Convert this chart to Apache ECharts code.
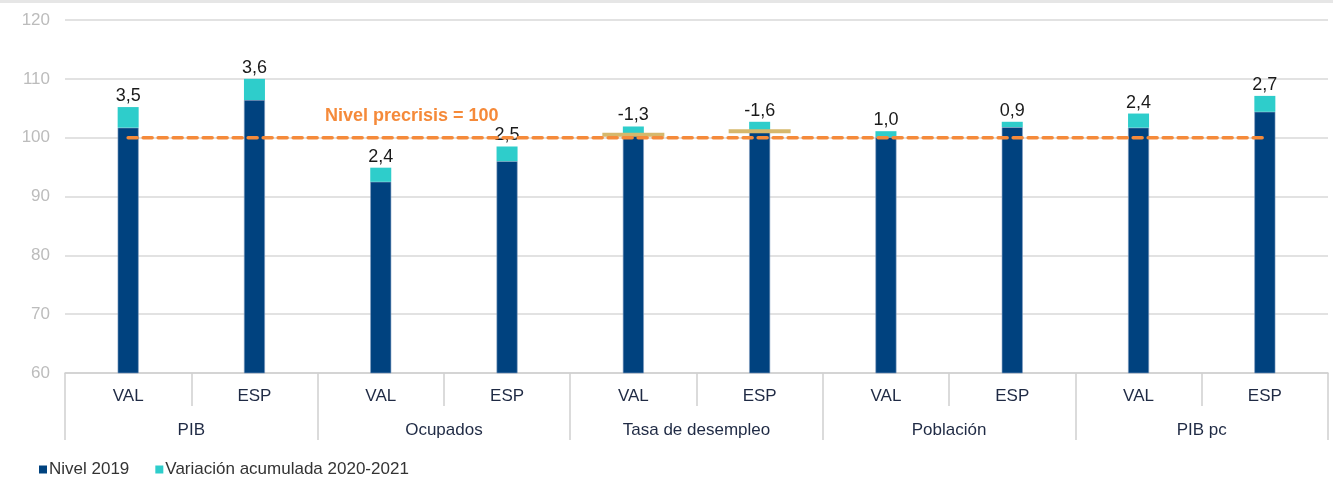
<!DOCTYPE html>
<html>
<head>
<meta charset="utf-8">
<script src="https://cdn.jsdelivr.net/npm/echarts@6/dist/echarts.min.js"></script>
<style>
html,body{margin:0;padding:0;background:#fff;}
#main{width:1333px;height:482px;}
</style>
</head>
<body>
<div id="main"></div>
<script>
// categorias
var subCats = ['VAL','ESP','VAL','ESP','VAL','ESP','VAL','ESP','VAL','ESP'];
var groupCats = ['PIB','Ocupados','Tasa de desempleo','Población','PIB pc'];
// nivel 2019 (precrisis = 100)
var nivel2019 = [101.7, 106.4, 92.5, 96.0, 100.6, 101.1, 100.1, 101.8, 101.7, 104.4];
// variacion acumulada 2020-2021 (etiquetas)
var variacion = [3.5, 3.6, 2.4, 2.5, -1.3, -1.6, 1.0, 0.9, 2.4, 2.7];
// marca del nivel en tasa de desempleo
var marcaDesempleo = ['-','-','-','-',100.5,101.1,'-','-','-','-'];
var precrisis = [100,100,100,100,100,100,100,100,100,100];

var fuente = 'Liberation Sans, Arial, sans-serif';
var myChart = echarts.init(document.getElementById('main'));

var option = {
	animation: false,
	textStyle: { fontFamily: fuente },
	grid: { left: 65, right: 5, top: 20, bottom: 109 },
	legend: {
		left: 34,
		top: 456,
		itemWidth: 8,
		itemHeight: 8,
		itemGap: 26,
		icon: 'rect',
		itemStyle: { borderWidth: 0 },
		textStyle: { color: '#333', fontSize: 17, fontFamily: fuente, padding: [0, 0, 0, -3] },
		data: ['Nivel 2019', 'Variación acumulada 2020-2021']
	},
	graphic: [
		{ type: 'rect', shape: { x: 0, y: 0, width: 1333, height: 3 }, style: { fill: '#e6e6e6' } },
		{
			type: 'text', left: 325, top: 107,
			style: { text: 'Nivel precrisis = 100', fill: '#F58A3A', font: 'bold 18px ' + fuente }
		}
	],
	xAxis: [
		{
			type: 'category',
			data: subCats,
			axisLine: { lineStyle: { color: '#d0d0d0', width: 1.5 } },
			axisTick: { show: true, interval: 0, length: 33, lineStyle: { color: '#d0d0d0', width: 1.5 } },
			axisLabel: { interval: 0, margin: 15, color: '#1f2a44', fontSize: 17 }
		},
		{
			type: 'category',
			data: groupCats,
			position: 'bottom',
			offset: 33,
			axisLine: { show: false },
			axisTick: { show: true, interval: 0, length: 34, lineStyle: { color: '#d0d0d0', width: 1.5 } },
			axisLabel: { interval: 0, margin: 16, color: '#1f2a44', fontSize: 17 }
		}
	],
	yAxis: {
		type: 'value',
		min: 60,
		max: 120,
		interval: 10,
		axisLine: { show: false },
		axisTick: { show: false },
		axisLabel: { color: '#bcbcbc', fontSize: 17, margin: 15 },
		splitLine: { lineStyle: { color: '#d9d9d9', width: 1.5 } }
	},
	series: [
		{
			name: 'Nivel 2019',
			type: 'bar',
			stack: 'total',
			barWidth: 21,
			itemStyle: { color: '#00427F', borderColor: '#7f9cc0', borderWidth: 0.6 },
			data: nivel2019
		},
		{
			name: 'Variación acumulada 2020-2021',
			type: 'bar',
			stack: 'total',
			barWidth: 21,
			itemStyle: { color: '#2ECDCB' },
			label: {
				show: true,
				position: 'top',
				distance: 2,
				color: '#1a1a1a',
				fontSize: 18,
				fontFamily: fuente,
				formatter: function (p) {
					return variacion[p.dataIndex].toFixed(1).replace('.', ',');
				}
			},
			data: variacion.map(function (v) { return Math.abs(v); })
		},
		{
			name: 'marca',
			type: 'scatter',
			symbol: 'rect',
			symbolSize: [62, 4],
			itemStyle: { color: '#D6B86C', opacity: 1 },
			z: 4,
			data: marcaDesempleo
		},
		{
			name: 'precrisis',
			type: 'line',
			data: precrisis,
			symbol: 'none',
			z: 5,
			lineStyle: { color: '#F58A3A', width: 3.5, type: [9, 6], cap: 'round' }
		}
	]
};

myChart.setOption(option);
</script>
</body>
</html>
